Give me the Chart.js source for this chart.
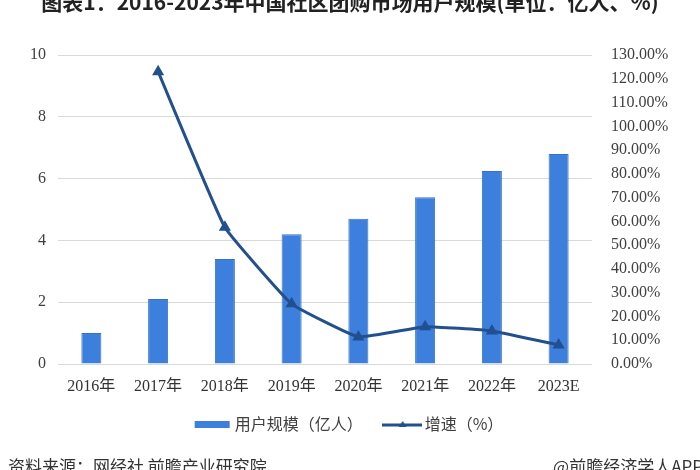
<!DOCTYPE html>
<html>
<head>
<meta charset="utf-8">
<script src="https://cdn.jsdelivr.net/npm/chart.js@4.4.0/dist/chart.umd.min.js"></script>
<style>
  html, body { margin: 0; padding: 0; background: #fff; }
  #wrap { position: relative; width: 700px; height: 470px; overflow: hidden; }
  #chart-title {
    position: absolute; left: 0; top: -12px; width: 700px; text-align: center;
    font: bold 21px "Noto Sans CJK SC", sans-serif; color: #222; line-height: 26px;
  }
  .foot {
    position: absolute; top: 456px; font: 17px "Noto Sans CJK SC", sans-serif; color: #333;
    line-height: 20px; white-space: nowrap;
  }
</style>
</head>
<body>
<div id="wrap">
  <canvas id="scale-chart" width="700" height="470"></canvas>
  <div id="chart-title">图表1：2016-2023年中国社区团购市场用户规模(单位：亿人、%)</div>
  <div class="foot" style="left:8px">资料来源：网经社 前瞻产业研究院</div>
  <div class="foot" style="right:-3px">@前瞻经济学人APP</div>
</div>
<script>
// 数据
var years = ['2016年', '2017年', '2018年', '2019年', '2020年', '2021年', '2022年', '2023E'];
var users = [1.0, 2.1, 3.4, 4.2, 4.7, 5.4, 6.25, 6.8];          // 用户规模（亿人）
var growth = [null, 123.0, 57.5, 25.3, 11.4, 15.7, 13.9, 8.0];   // 增速（%）
var leftTicks = [0, 2, 4, 6, 8, 10];
var rightTicks = [0, 10, 20, 30, 40, 50, 60, 70, 80, 90, 100, 110, 120, 130];

var barColor = '#3d7fdc';
var lineColor = '#22508f';

// 图例小图标
function makeIcon(kind) {
    var c = document.createElement('canvas');
    c.width = 40; c.height = 12;
    var g = c.getContext('2d');
    if (kind == 'bar') {
        g.fillStyle = barColor;
        g.fillRect(3, 3, 35, 7);
    } else {
        g.strokeStyle = lineColor;
        g.lineWidth = 3;
        g.beginPath(); g.moveTo(0, 7); g.lineTo(43, 7); g.stroke();
        g.fillStyle = lineColor;
        g.beginPath(); g.moveTo(21, 3); g.lineTo(25, 9); g.lineTo(17, 9); g.closePath(); g.fill();
    }
    return c;
}

var ctx = document.getElementById('scale-chart').getContext('2d');
var myChart = new Chart(ctx, {
    data: {
        labels: years,
        datasets: [
            {
                type: 'bar',
                label: '用户规模（亿人）',
                data: users,
                yAxisID: 'y',
                backgroundColor: barColor,
                borderColor: '#3572c9',
                borderWidth: 1,
                categoryPercentage: 0.3,
                barPercentage: 1,
                order: 2
            },
            {
                type: 'line',
                label: '增速（%）',
                data: growth,
                yAxisID: 'y1',
                borderColor: lineColor,
                backgroundColor: lineColor,
                borderWidth: 3,
                pointStyle: 'triangle',
                pointRadius: 4,
                tension: 0.1,
                spanGaps: false,
                order: 1
            }
        ]
    },
    options: {
        responsive: false,
        animation: false,
        layout: { padding: { left: 0, right: 0, top: 55, bottom: 28 } },
        plugins: {
            title: { display: false },
            tooltip: { enabled: false },
            legend: {
                position: 'bottom',
                labels: {
                    usePointStyle: true,
                    pointStyleWidth: 30,
                    padding: 24,
                    color: '#404040',
                    font: { family: '"Noto Sans CJK SC", sans-serif', size: 16 },
                    generateLabels: function (chart) {
                        return [
                            { text: '用户规模（亿人）', pointStyle: makeIcon('bar'), fontColor: '#404040',
                              fillStyle: barColor, strokeStyle: barColor, lineWidth: 0, datasetIndex: 0 },
                            { text: '增速（%）', pointStyle: makeIcon('line'), fontColor: '#404040',
                              fillStyle: lineColor, strokeStyle: lineColor, lineWidth: 0, datasetIndex: 1 }
                        ];
                    }
                }
            }
        },
        scales: {
            x: {
                grid: { display: false, drawTicks: false },
                border: { display: false },
                ticks: {
                    color: '#333',
                    padding: 13,
                    font: { family: '"Liberation Serif", "Noto Sans CJK SC", serif', size: 16 },
                    maxRotation: 0
                },
                afterFit: function (scale) { scale.height = 28; }
            },
            y: {
                position: 'left',
                min: 0,
                max: 10,
                afterBuildTicks: function (scale) {
                    scale.ticks = leftTicks.map(function (v) { return { value: v }; });
                },
                grid: { color: '#d9d9d9', lineWidth: 1, drawTicks: false },
                border: { display: false },
                ticks: {
                    color: '#404040',
                    padding: 12,
                    font: { family: '"Liberation Serif", serif', size: 16 }
                },
                afterFit: function (scale) { scale.width = 58; }
            },
            y1: {
                position: 'right',
                min: 0,
                max: 130,
                afterBuildTicks: function (scale) {
                    scale.ticks = rightTicks.map(function (v) { return { value: v }; });
                },
                grid: { display: false },
                border: { display: false },
                ticks: {
                    color: '#404040',
                    padding: 11,
                    font: { family: '"Liberation Serif", serif', size: 16 },
                    callback: function (v) { return v.toFixed(2) + '%'; }
                },
                afterFit: function (scale) { scale.width = 108; }
            }
        }
    }
});
</script>
</body>
</html>
